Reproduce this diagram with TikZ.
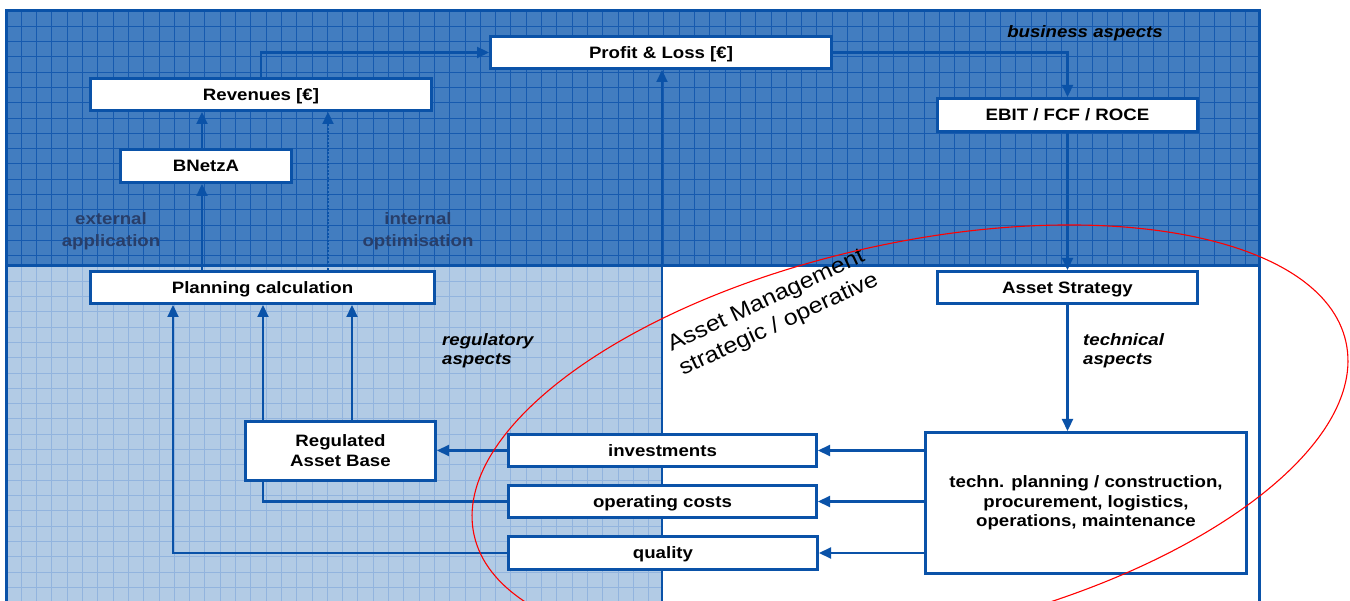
\documentclass[tikz,border=0pt]{standalone}
\usepackage{fontspec}
\setmainfont{Liberation Sans}[FakeStretch=1.13]
\usetikzlibrary{arrows.meta,calc}
\definecolor{darkfill}{RGB}{66,125,192}
\definecolor{darkgrid}{RGB}{22,90,175}
\definecolor{lightfill}{RGB}{178,203,229}
\definecolor{lightgrid}{RGB}{146,180,222}
\definecolor{bord}{RGB}{10,82,168}
\definecolor{graytext}{RGB}{40,62,105}
\begin{document}
\begin{tikzpicture}[x=1pt,y=-1pt]
\tikzset{
  box/.style={draw=bord, line width=3pt, fill=white, inner sep=0pt, align=center,
    font=\bfseries\fontsize{16.5}{19.3}\selectfont},
  oneline/.style={text height=14pt, text depth=2.2pt},
  arr/.style={draw=bord, line width=2.2pt, -{Triangle[length=12pt,width=11pt]}},
  ln/.style={draw=bord, line width=2.2pt},
  lbl/.style={inner sep=0pt, align=center, font=\bfseries\fontsize{16.5}{21.7}\selectfont},
  ilbl/.style={inner sep=0pt, align=left, font=\bfseries\itshape\fontsize{16.5}{19}\selectfont},
}
\useasboundingbox (0,0) rectangle (1350,601);
\clip (0,0) rectangle (1350,601);
% backgrounds
\fill[darkfill] (6,11) rectangle (1259,266);
\foreach \i in {1,...,81} \draw[darkgrid, line width=1pt] ({6+15.3*\i},11) -- ({6+15.3*\i},266);
\foreach \j in {1,...,16} \draw[darkgrid, line width=1pt] (6,{11+15.3*\j}) -- (1259,{11+15.3*\j});
\fill[lightfill] (6,266) rectangle (662,610);
\foreach \i in {1,...,42} \draw[lightgrid, line width=1pt] ({6+15.3*\i},266) -- ({6+15.3*\i},610);
\foreach \j in {1,...,22} \draw[lightgrid, line width=1pt] (6,{266+15.3*\j}) -- (662,{266+15.3*\j});
% frame
\draw[bord, line width=3pt] (6,620) -- (6,11) -- (1259,11) -- (1259,620);
\draw[bord, line width=3pt] (6,266) -- (1259,266);
\draw[bord, line width=2.2pt] (662,266) -- (662,620);

% boxes
\node[box, oneline, minimum width=341pt, minimum height=32pt] (pl) at (661,52.5) {Profit \& Loss [€]};
\node[box, oneline, minimum width=341pt, minimum height=32pt] (rev) at (261,94.5) {Revenues [€]};
\node[box, oneline, minimum width=171pt, minimum height=33pt] (bn) at (206,166) {BNetzA};
\node[box, oneline, minimum width=260pt, minimum height=33pt] (ebit) at (1067.5,115) {EBIT / FCF / ROCE};
\node[box, oneline, minimum width=344pt, minimum height=32pt] (plan) at (262.5,287.5) {Planning calculation};
\node[box, oneline, minimum width=260pt, minimum height=32pt] (strat) at (1067.5,287.5) {Asset Strategy};
\node[box, minimum width=190pt, minimum height=59pt, font=\bfseries\fontsize{16.5}{20}\selectfont] (rab) at (340.5,451) {Regulated\\Asset Base};
\node[box, oneline, minimum width=308pt, minimum height=32pt] (inv) at (662.5,450.5) {investments};
\node[box, oneline, minimum width=308pt, minimum height=32pt] (opc) at (662.5,501.5) {operating costs};
\node[box, oneline, minimum width=309pt, minimum height=33pt] (qual) at (663,553) {quality};
\node[box, minimum width=321pt, minimum height=141pt] (tech) at (1086,503) {techn. planning / construction,\\procurement, logistics,\\operations, maintenance};

% helper coordinates
\coordinate (xa) at (202,0);
\coordinate (xb) at (328,0);
\coordinate (xc) at (173,0);
\coordinate (xd) at (263,0);
\coordinate (xe) at (352,0);
\coordinate (xs) at (1067.5,0);
\coordinate (divtop) at (662,266);

% connectors
\draw[arr] (rev.north) |- (pl.west);
\draw[arr] (pl.east) -| (ebit.north);
\draw[arr] (ebit.south) -- (strat.north);
\draw[arr] (strat.south) -- (tech.north -| xs);
\draw[arr] (tech.west |- inv.east) -- (inv.east);
\draw[arr] (tech.west |- opc.east) -- (opc.east);
\draw[arr] (tech.west |- qual.east) -- (qual.east);
\draw[arr] (inv.west) -- (inv.west -| rab.east);
\draw[ln] (opc.west) -| (rab.south -| xd);
\draw[arr] (rab.north -| xd) -- (plan.south -| xd);
\draw[arr] (rab.north -| xe) -- (plan.south -| xe);
\draw[arr] (qual.west) -| (plan.south -| xc);
\draw[arr] (plan.north -| xa) -- (bn.south -| xa);
\draw[arr] (bn.north -| xa) -- (rev.south -| xa);
\draw[arr, dash pattern=on 2pt off 1.5pt] (plan.north -| xb) -- (rev.south -| xb);
\draw[arr] (divtop) -- (pl.south -| divtop);

% labels
\node[ilbl, align=center] (bus) at (1085,33) {business aspects};
\node[lbl, text=graytext] (ext) at (111,231) {external\\application};
\node[lbl, text=graytext] (int) at (418,231) {internal\\optimisation};
\node[ilbl, anchor=west] (reg) at (442,350.5) {regulatory\\aspects};
\node[ilbl, anchor=west] (tec) at (1083,350.5) {technical\\aspects};
\node[rotate=25, anchor=west, align=left, inner sep=0pt, font=\fontsize{22}{27}\selectfont] (am) at (675,359) {Asset Management\\strategic / operative};

% red ellipse
\draw[red, line width=1.1pt, rotate around={12.5:(910,438.5)}] (910,438.5) ellipse [x radius=446.5, y radius=195];
\end{tikzpicture}
\end{document}
